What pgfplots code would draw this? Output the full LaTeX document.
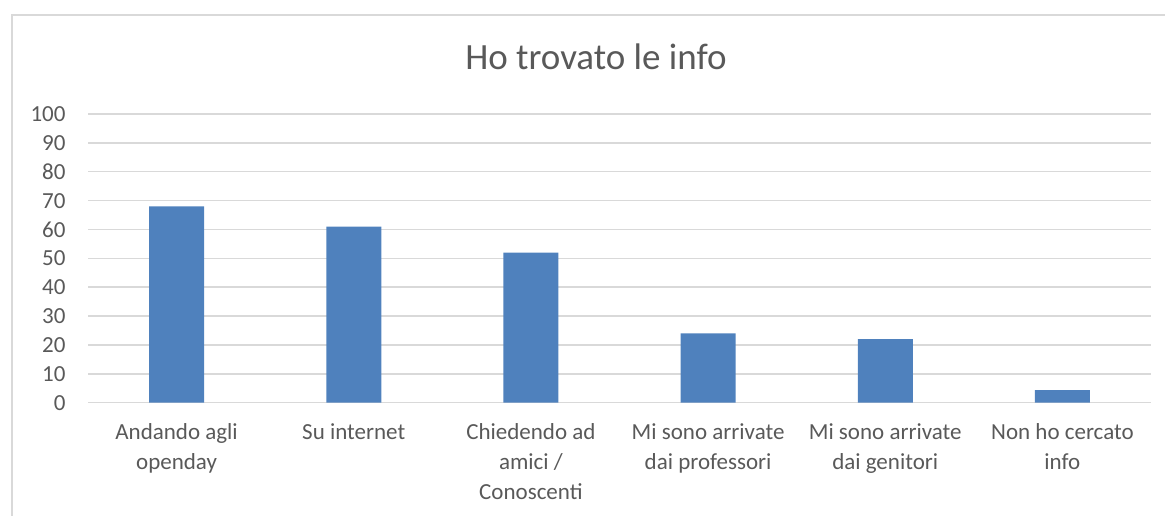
\documentclass[border=0pt]{standalone}
\usepackage{pgfplots}
\pgfplotsset{compat=1.18}
\usepackage{fontspec}
\setmainfont{Carlito}
\definecolor{barblue}{HTML}{4F81BD}
\definecolor{txtgray}{HTML}{595959}
\definecolor{gridgray}{HTML}{D9D9D9}
\begin{document}
\begin{tikzpicture}
\useasboundingbox (0,0) rectangle (582.5pt,-257.5pt);
\draw[gridgray, line width=0.75pt] (6pt,-400pt) -- (6pt,-7.5pt) -- (700pt,-7.5pt) -- (700pt,-400pt);
\node[anchor=base, font=\fontsize{18.5}{22}\selectfont, text=txtgray] at (298pt,-34.65pt) {Ho trovato le info};
\begin{axis}[
  at={(44pt,-201.35pt)}, anchor=south west,
  scale only axis, width=531.5pt, height=144.35pt,
  xmin=-0.5, xmax=5.5, ymin=0, ymax=100,
  ytick={0,10,...,100},
  xtick={0,1,2,3,4,5},
  xticklabels={{Andando agli\\openday},{Su internet},{Chiedendo ad\\amici /\\Conoscenti},{Mi sono arrivate\\dai professori},{Mi sono arrivate\\dai genitori},{Non ho cercato\\info}},
  ymajorgrids,
  grid style={gridgray, line width=0.75pt},
  axis line style={draw=none},
  major tick length=0pt,
  tick style={draw=none},
  yticklabel style={font=\fontsize{11.5}{13}\selectfont, text=txtgray, xshift=-7.7pt},
  xticklabel style={font=\fontsize{11.5}{15}\selectfont, text=txtgray, align=center, yshift=-7pt},
  /pgf/number format/assume math mode=true,
  ybar, bar width=27.5pt,
]
\addplot[fill=barblue, draw=none] coordinates {(0,68) (1,61) (2,52) (3,24) (4,22) (5,4.4)};
\end{axis}
\end{tikzpicture}
\end{document}
